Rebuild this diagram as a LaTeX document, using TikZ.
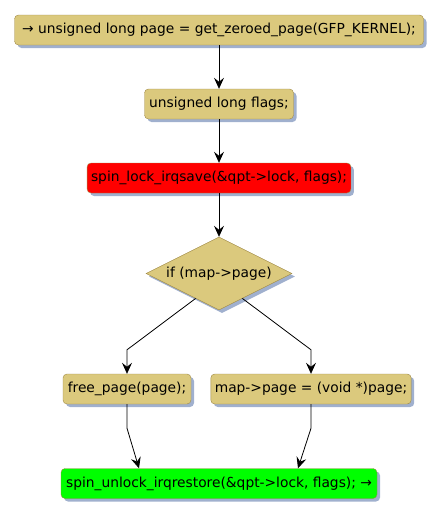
\documentclass[tikz,border=0pt]{standalone}
\usepackage{fontspec}
\setmainfont{DejaVu Sans}
\usetikzlibrary{arrows.meta,shapes.geometric,shadows,calc}

\definecolor{actfill}{RGB}{219,201,125}
\definecolor{actline}{RGB}{160,138,70}
\definecolor{actshadow}{RGB}{160,176,206}

\begin{document}
\begin{tikzpicture}[
  x=1pt, y=-1pt,
  font=\fontsize{13.8}{16}\selectfont,
  shade/.style={drop shadow={shadow xshift=3pt, shadow yshift=-3pt, fill=actshadow, opacity=1}},
  act/.style={draw=actline, fill=actfill, rounded corners=4pt, minimum height=30pt, inner xsep=4pt, shade},
  cond/.style={diamond, draw=actline, fill=actfill, aspect=2, inner sep=0pt, minimum width=146pt, minimum height=73pt, shade},
  arrow/.style={-{Stealth[length=11pt, width=10pt, inset=4pt]}, line width=0.8pt}
]
\useasboundingbox (0,0) rectangle (441,517);

\node[act, minimum width=409pt] (get) at (219,30)
  {→ unsigned long page = get\_zeroed\_page(GFP\_KERNEL);};
\node[act, minimum width=149pt] (flags) at (219,104) {unsigned long flags;};
\node[act, fill=red, minimum width=263pt] (lock) at (219,178)
  {spin\_lock\_irqsave(\&qpt->lock, flags);};
\node[cond] (test) at (219,273.5) {if (map->page)};

\node[act, minimum width=128pt] (free) at (127,389) {free\_page(page);};
\node[act, minimum width=200pt] (setp) at (311,389) {map->page = (void *)page;};

\node[act, fill=green, minimum width=316pt] (unlock) at (219,483.5)
  {spin\_unlock\_irqrestore(\&qpt->lock, flags); →};

\draw[arrow] (get) -- (flags);
\draw[arrow] (flags) -- (lock);
\draw[arrow] (lock) -- (test);

% branches
\draw[arrow] ($(test.west)!0.68!(test.south)$) -- ([yshift=24pt]free.north) -- (free.north);
\draw[arrow] ($(test.east)!0.68!(test.south)$) -- ([yshift=24pt]setp.north) -- (setp.north);

% merge
\draw[arrow] (free.south) -- ([yshift=-24pt]free.south) -- ([xshift=-80pt]unlock.north);
\draw[arrow] (setp.south) -- ([yshift=-24pt]setp.south) -- ([xshift=79pt]unlock.north);

\end{tikzpicture}
\end{document}
